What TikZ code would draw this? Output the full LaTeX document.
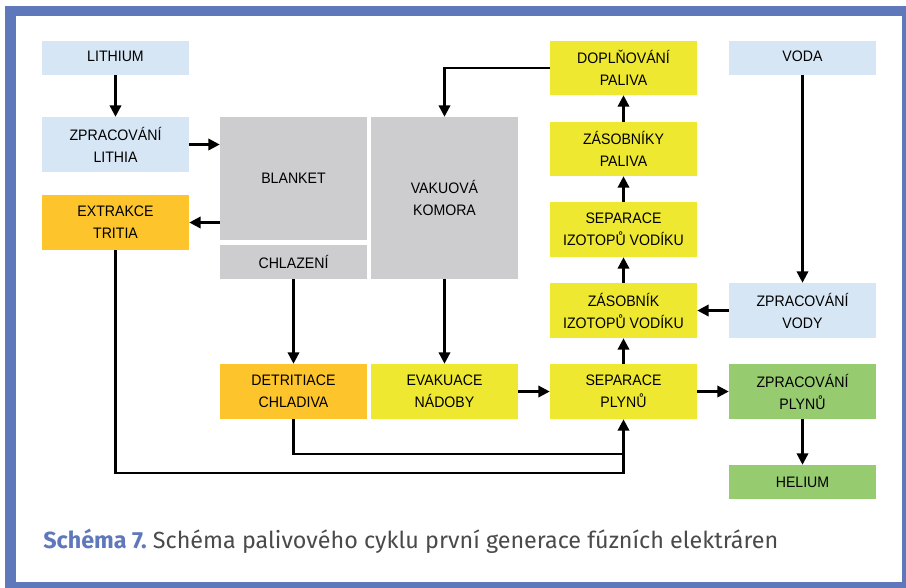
\documentclass[tikz,border=0pt]{standalone}
\usepackage{fontspec}
\setmainfont{Liberation Sans}[FakeStretch=0.93]
\newfontfamily\capfont{Fira Sans}
\usetikzlibrary{arrows.meta}
\definecolor{frameblue}{HTML}{5F78BB}
\definecolor{lblue}{HTML}{D7E6F4}
\definecolor{lgray}{HTML}{CDCDCF}
\definecolor{fyellow}{HTML}{EEE830}
\definecolor{forange}{HTML}{FDC52B}
\definecolor{fgreen}{HTML}{96CB6F}
\definecolor{capgray}{HTML}{4A4A4A}
\tikzset{
  box/.style={inner sep=0pt, draw=none, align=center, font=\fontsize{11.4pt}{16.5pt}\selectfont, text=black},
  toprow/.style={text height=6pt, text depth=1.5pt},
  arr/.style={line width=1.8pt, -{Triangle[length=8.6pt,width=8.6pt]}},
  ln/.style={line width=1.8pt}
}
\newcommand\bx[8][]{\node[box,#1,fill=#7,minimum width={(#5-#3)*0.75pt},minimum height={(#6-#4)*0.75pt}] (#2) at ({(#3+#5)/2},{(#4+#6)/2}) {#8};}
\begin{document}
\begin{tikzpicture}[x=0.75pt,y=-0.75pt]
\useasboundingbox (0,0) rectangle (906,587);
\fill[white] (0,0) rectangle (906,587);
\begin{scope}
\clip (0,0) rectangle (906,587);
\fill[frameblue] (5,6) rectangle (916,597);
\fill[white] (16,16) rectangle (902,582);
\end{scope}
% boxes
\bx[toprow]{lith}{42}{41}{189}{75}{lblue}{LITHIUM}
\bx{zlith}{42}{117}{189}{172}{lblue}{ZPRACOVÁNÍ\\LITHIA}
\bx{extr}{42}{195}{189}{250}{forange}{EXTRAKCE\\TRITIA}
\bx{blank}{220}{117}{367}{240}{lgray}{BLANKET}
\bx{chlaz}{220}{245}{367}{279}{lgray}{CHLAZENÍ}
\bx{vak}{371}{117}{518}{279}{lgray}{VAKUOVÁ\\KOMORA}
\bx{dopl}{550}{41}{697}{95}{fyellow}{DOPLŇOVÁNÍ\\PALIVA}
\bx{zaspal}{550}{122}{697}{176}{fyellow}{ZÁSOBNÍKY\\PALIVA}
\bx{sepiz}{550}{202}{697}{257}{fyellow}{SEPARACE\\IZOTOPŮ VODÍKU}
\bx{zasiz}{550}{283}{697}{338}{fyellow}{ZÁSOBNÍK\\IZOTOPŮ VODÍKU}
\bx[toprow]{voda}{729}{41}{876}{75}{lblue}{VODA}
\bx{zvody}{729}{283}{876}{338}{lblue}{ZPRACOVÁNÍ\\VODY}
\bx{detr}{220}{364}{367}{419}{forange}{DETRITIACE\\CHLADIVA}
\bx{evak}{371}{364}{518}{419}{fyellow}{EVAKUACE\\NÁDOBY}
\bx{sepp}{550}{364}{697}{419}{fyellow}{SEPARACE\\PLYNŮ}
\bx{zplyn}{729}{364}{876}{419}{fgreen}{ZPRACOVÁNÍ\\PLYNŮ}
\bx{hel}{729}{465}{876}{499}{fgreen}{HELIUM}
% connectors
\draw[arr] (lith.south) -- (zlith.north);
\draw[arr] (zlith.east) -- (blank.west |- zlith.east);
\draw[arr] (blank.west |- extr.east) -- (extr.east);
\draw[arr] (dopl.west) -| (vak.north);
\draw[arr] (chlaz.south) -- (detr.north);
\draw[arr] (vak.south) -- (evak.north);
\draw[arr] (evak.east) -- (sepp.west);
\draw[arr] (sepp.east) -- (zplyn.west);
\draw[arr] (zplyn.south) -- (hel.north);
\draw[arr] (sepp.north) -- (zasiz.south);
\draw[arr] (zasiz.north) -- (sepiz.south);
\draw[arr] (sepiz.north) -- (zaspal.south);
\draw[arr] (zaspal.north) -- (dopl.south);
\draw[arr] (voda.south) -- (zvody.north);
\draw[arr] (zvody.west) -- (zasiz.east);
\coordinate (j1) at (623.5,454);
\coordinate (j2) at (623.5,473);
\draw[ln] (extr.south) |- (j2) -- (j1);
\draw[arr] (detr.south) |- (j1) -- (sepp.south);
% caption
\node[anchor=base west, inner sep=0pt, font=\capfont\fontsize{17.5pt}{21pt}\selectfont] (cap) at (43,548)
  {\textcolor{frameblue}{\bfseries Schéma 7.}\ \textcolor{capgray}{Schéma palivového cyklu první generace fúzních elektráren}};
\end{tikzpicture}
\end{document}
